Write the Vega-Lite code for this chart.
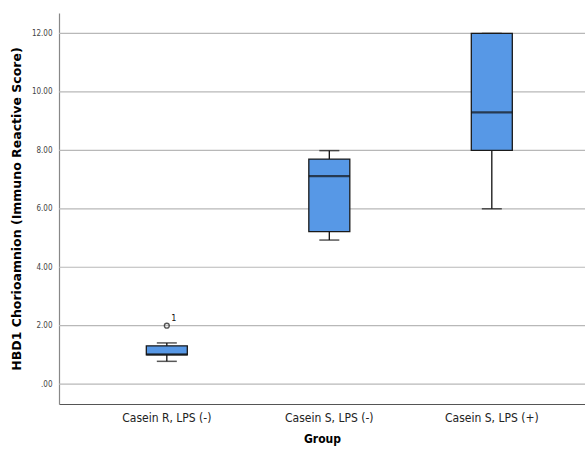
{
  "$schema": "https://vega.github.io/schema/vega-lite/v6.json",
  "width": 526,
  "height": 391,
  "autosize": {"type": "none"},
  "padding": {"left": 59, "top": 13, "right": 0, "bottom": 50},
  "background": "white",
  "config": {
    "view": {"stroke": null},
    "font": "Liberation Sans Narrow, DejaVu Sans Condensed, sans-serif"
  },
  "datasets": {
    "boxes": [
      {"group": "Casein R, LPS (-)", "lower": 0.78, "q1": 1.0, "median": 1.02, "q3": 1.31, "upper": 1.41},
      {"group": "Casein S, LPS (-)", "lower": 4.93, "q1": 5.22, "median": 7.12, "q3": 7.7, "upper": 7.99},
      {"group": "Casein S, LPS (+)", "lower": 6.0, "q1": 8.0, "median": 9.3, "q3": 12.0, "upper": 12.0}
    ],
    "outliers": [
      {"group": "Casein R, LPS (-)", "value": 2.0, "label": "1"}
    ]
  },
  "encoding": {
    "x": {
      "field": "group",
      "type": "nominal",
      "sort": null,
      "scale": {"type": "band", "paddingInner": 0, "paddingOuter": 0.1185, "align": 0.69},
      "axis": {
        "title": "Group",
        "titleFontWeight": "bold",
        "titleFontSize": 12,
        "titlePadding": 10,
        "labelFontSize": 12,
        "labelColor": "#222222",
        "labelAngle": 0,
        "labelPadding": 8,
        "ticks": false,
        "domainColor": "#555555",
        "domainWidth": 1.2,
        "grid": false
      }
    }
  },
  "layer": [
    {
      "data": {"values": [{"v": 0}, {"v": 2}, {"v": 4}, {"v": 6}, {"v": 8}, {"v": 10}, {"v": 12}]},
      "mark": {"type": "rule", "color": "#b8b8b8", "strokeWidth": 1.2},
      "encoding": {
        "x": null,
        "y": {
          "field": "v",
          "type": "quantitative",
          "scale": {"domain": [-0.68, 12.7], "nice": false, "zero": false},
          "axis": {
            "title": "HBD1 Chorioamnion (Immuno Reactive Score)",
            "titleFontWeight": "bold",
            "titleFontSize": 12.5,
            "titleFont": "DejaVu Sans, sans-serif",
            "titlePadding": 8,
            "values": [0, 2, 4, 6, 8, 10, 12],
            "labelExpr": "datum.value == 0 ? '.00' : format(datum.value, '.2f')",
            "labelFontSize": 8,
            "labelColor": "#444444",
            "labelPadding": 7,
            "ticks": false,
            "grid": false,
            "domainColor": "#888888",
            "domainWidth": 1.2
          }
        }
      }
    },
    {
      "data": {"name": "boxes"},
      "mark": {"type": "rule", "color": "#111111", "strokeWidth": 1.3},
      "encoding": {
        "y": {"field": "lower", "type": "quantitative"},
        "y2": {"field": "upper"}
      }
    },
    {
      "data": {"name": "boxes"},
      "mark": {"type": "tick", "color": "#111111", "size": 20, "thickness": 1.5},
      "encoding": {"y": {"field": "lower", "type": "quantitative"}}
    },
    {
      "data": {"name": "boxes"},
      "mark": {"type": "tick", "color": "#111111", "size": 20, "thickness": 1.5},
      "encoding": {"y": {"field": "upper", "type": "quantitative"}}
    },
    {
      "data": {"name": "boxes"},
      "mark": {"type": "bar", "size": 41, "fill": "#5798e6", "stroke": "#1a1a1a", "strokeWidth": 1.3},
      "encoding": {
        "y": {"field": "q1", "type": "quantitative"},
        "y2": {"field": "q3"}
      }
    },
    {
      "data": {"name": "boxes"},
      "mark": {"type": "tick", "color": "#111111", "size": 41, "thickness": 2.2},
      "encoding": {"y": {"field": "median", "type": "quantitative"}}
    },
    {
      "data": {"name": "outliers"},
      "mark": {"type": "point", "shape": "circle", "filled": false, "color": "#111111", "size": 24, "strokeWidth": 1.3},
      "encoding": {"y": {"field": "value", "type": "quantitative"}}
    },
    {
      "data": {"name": "outliers"},
      "mark": {"type": "text", "fontSize": 9, "dx": 7, "dy": -8, "color": "#111111"},
      "encoding": {
        "y": {"field": "value", "type": "quantitative"},
        "text": {"field": "label"}
      }
    }
  ]
}
